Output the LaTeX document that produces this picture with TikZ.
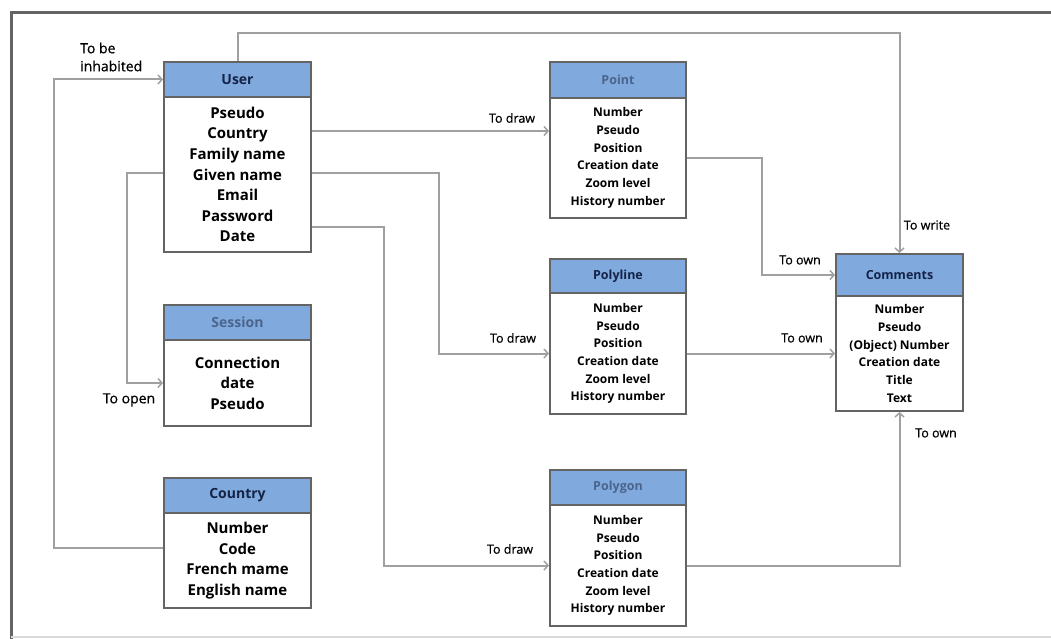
\documentclass[tikz,border=0pt]{standalone}
\usepackage{fontspec}
\setmainfont{Open Sans}
\newfontfamily\lblfont{Open Sans}[FakeBold=0.6]
\usetikzlibrary{arrows.meta}
\definecolor{hdr}{RGB}{128,170,222}
\definecolor{boxline}{RGB}{100,100,100}
\definecolor{conncol}{RGB}{160,160,160}
\definecolor{navy}{RGB}{20,35,70}
\definecolor{greyblue}{RGB}{75,100,140}
\definecolor{framecol}{RGB}{100,100,100}
\tikzset{
  hdrbox/.style={draw=boxline, fill=hdr, line width=2pt, inner sep=0pt, font=\bfseries\fontsize{14}{16}\selectfont},
  hdrsmall/.style={font=\bfseries\fontsize{12.5}{14}\selectfont},
  bodybox/.style={draw=boxline, fill=white, line width=2pt, inner sep=0pt, align=center},
  bigtext/.style={font=\bfseries\fontsize{15}{20.6}\selectfont},
  smalltext/.style={font=\bfseries\fontsize{12}{17.7}\selectfont},
  conn/.style={draw=conncol, line width=2pt, -{Straight Barb[length=4pt,width=9pt,line width=1.5pt]}},
  lbl/.style={font=\lblfont\fontsize{12.5}{17}\selectfont, inner sep=0pt, text=black},
  lblbig/.style={font=\lblfont\fontsize{14}{18}\selectfont}
}
\begin{document}
\begin{tikzpicture}[x=1pt,y=-1pt]
\useasboundingbox (0,0) rectangle (1051,639);
\fill[white] (0,0) rectangle (1051,639);
% frame
\draw[framecol, line width=3pt] (1051,13) -- (11,13) -- (11,639);
\draw[black!15, line width=1.5pt] (11,637) -- (1051,637);

% User
\node[hdrbox, minimum width=147pt, minimum height=35pt, text=navy] (uh) at (237.5,79.5) {User};
\node[bodybox, bigtext, minimum width=147pt, minimum height=155pt] (ub) at (237.5,174.5) {Pseudo\\Country\\Family name\\Given name\\Email\\Password\\Date};

% Session
\node[hdrbox, minimum width=147pt, minimum height=35pt, text=greyblue] (sh) at (237.5,322.5) {Session};
\node[bodybox, bigtext, minimum width=147pt, minimum height=86pt] (sb) at (237.5,383) {Connection\\date\\Pseudo};

% Country
\node[hdrbox, minimum width=147pt, minimum height=35pt, text=navy] (coh) at (237.5,495.5) {Country};
\node[bodybox, bigtext, minimum width=147pt, minimum height=95pt] (cob) at (237.5,560.5) {Number\\Code\\French mame\\English name};

% Point
\node[hdrbox, hdrsmall, minimum width=136pt, minimum height=36pt, text=greyblue] (ph) at (618,80) {Point};
\node[bodybox, smalltext, minimum width=136pt, minimum height=120pt] (pb) at (618,158) {Number\\Pseudo\\Position\\Creation date\\Zoom level\\History number};

% Polyline
\node[hdrbox, hdrsmall, minimum width=136pt, minimum height=34pt, text=navy] (plh) at (618,276) {Polyline};
\node[bodybox, smalltext, minimum width=136pt, minimum height=121pt] (plb) at (618,353.5) {Number\\Pseudo\\Position\\Creation date\\Zoom level\\History number};

% Polygon
\node[hdrbox, hdrsmall, minimum width=136pt, minimum height=35pt, text=greyblue] (pgh) at (618,487.5) {Polygon};
\node[bodybox, smalltext, minimum width=136pt, minimum height=121pt] (pgb) at (618,565.5) {Number\\Pseudo\\Position\\Creation date\\Zoom level\\History number};

% Comments
\node[hdrbox, hdrsmall, minimum width=127pt, minimum height=42pt, text=navy] (ch) at (899.5,275) {Comments};
\node[bodybox, smalltext, minimum width=127pt, minimum height=115pt] (cb) at (899.5,353.5) {Number\\Pseudo\\(Object) Number\\Creation date\\Title\\Text};

% connectors
\draw[conn] (uh.north) -- ++(0,-28) -| (ch.north);
\draw[conn] ([yshift=-35pt]ub.north east) coordinate (a1) -- (a1 -| pb.west);
\draw[conn] ([yshift=-77pt]ub.north east) -- ++(127,0) |- (plb.west);
\draw[conn] ([yshift=-131pt]ub.north east) -- ++(72,0) |- (pgb.west);
\draw[conn] ([yshift=-77pt]ub.north west) -- ++(-36,0) |- (sb.west);
\draw[conn] ([yshift=13pt]cob.west) -- ++(-109,0) |- (uh.west);
\draw[conn] (pb.east) -- ++(75,0) |- (ch.west);
\draw[conn] (plb.east) -- (cb.west);
\draw[conn] (pgb.east) -| (cb.south);

% labels
\node[lbl, lblbig, anchor=west, align=left] (l1) at (80,57) {To be\\inhabited};
\node[lbl] (l2) at (512,118) {To draw};
\node[lbl] (l3) at (513,338) {To draw};
\node[lbl] (l4) at (510,549) {To draw};
\node[lbl, lblbig] (l5) at (129,400) {To open};
\node[lbl] (l6) at (800,260) {To own};
\node[lbl] (l7) at (802,338) {To own};
\node[lbl] (l8) at (936,433) {To own};
\node[lbl] (l9) at (927,225) {To write};
\end{tikzpicture}
\end{document}
